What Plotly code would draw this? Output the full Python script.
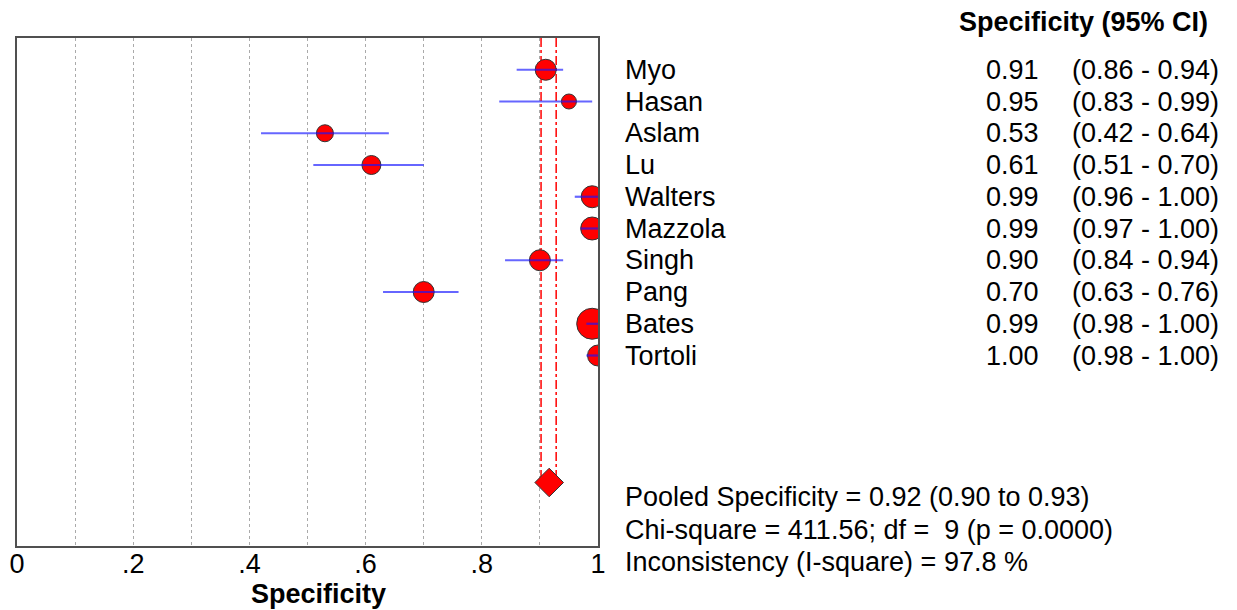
import plotly.graph_objects as go

studies = ["Myo", "Hasan", "Aslam", "Lu", "Walters", "Mazzola", "Singh", "Pang", "Bates", "Tortoli"]
spec = [0.91, 0.95, 0.53, 0.61, 0.99, 0.99, 0.90, 0.70, 0.99, 1.00]
lo = [0.86, 0.83, 0.42, 0.51, 0.96, 0.97, 0.84, 0.63, 0.98, 0.98]
hi = [0.94, 0.99, 0.64, 0.70, 1.00, 1.00, 0.94, 0.76, 1.00, 1.00]
spec_txt = ["0.91", "0.95", "0.53", "0.61", "0.99", "0.99", "0.90", "0.70", "0.99", "1.00"]
ci_txt = ["(0.86 - 0.94)", "(0.83 - 0.99)", "(0.42 - 0.64)", "(0.51 - 0.70)", "(0.96 - 1.00)",
          "(0.97 - 1.00)", "(0.84 - 0.94)", "(0.63 - 0.76)", "(0.98 - 1.00)", "(0.98 - 1.00)"]
weights = [21, 15, 17, 19, 22, 23, 21, 21, 31, 21]  # marker diameter (px)
pooled = 0.916
pooled_lo = 0.902
pooled_hi = 0.928
pooled_row = 13
stats_lines = ["Pooled Specificity = 0.92 (0.90 to 0.93)",
               "Chi-square = 411.56; df =  9 (p = 0.0000)",
               "Inconsistency (I-square) = 97.8 %"]
tick_vals = [0, 0.2, 0.4, 0.6, 0.8, 1.0]
tick_text = ["0", ".2", ".4", ".6", ".8", "1"]

FONT = "Liberation Sans, Arial, sans-serif"
FS = 27
OFF = 8  # default page body margin
W, H = 1237 - 2 * OFF, 610 - OFF
L, R, T, B = 17, 598, 38, 546  # plot area in screen pixels
PW, PH = R - L, B - T

def px_x(px):
    return (px - L) / PW

def px_y(py):
    return (B - py) / PH

rows = list(range(len(studies)))
fig = go.Figure()

# pooled CI lines
for v in (pooled_lo, pooled_hi):
    fig.add_trace(go.Scatter(x=[v, v], y=[-1, pooled_row], mode="lines",
                             line=dict(color="red", width=1.5, dash="dashdot"),
                             hoverinfo="skip", showlegend=False))

# study markers
fig.add_trace(go.Scatter(x=spec, y=rows, mode="markers",
                         marker=dict(size=weights, color="#ff0000", opacity=1,
                                     line=dict(color="#333333", width=1)),
                         showlegend=False))
# CI lines on top
for i in rows:
    fig.add_trace(go.Scatter(x=[lo[i], hi[i]], y=[i, i], mode="lines",
                             line=dict(color="rgba(20,20,255,0.65)", width=2.2),
                             hoverinfo="skip", showlegend=False))

# pooled diamond
fig.add_trace(go.Scatter(x=[pooled], y=[pooled_row], mode="markers",
                         marker=dict(symbol="diamond", size=22, color="#ff0000", opacity=1,
                                     line=dict(color="#333333", width=1)),
                         showlegend=False))

txtfont = dict(size=FS, family=FONT, color="black")
ann = []
ann.append(dict(x=px_x(957), y=px_y(22), xref="paper", yref="paper", xanchor="left", yanchor="middle",
                text="<b>Specificity (95% CI)</b>", showarrow=False, font=txtfont))
for i in rows:
    ann.append(dict(x=px_x(1041), y=i, xref="paper", yref="y", xanchor="right", yanchor="middle",
                    text=spec_txt[i], showarrow=False, font=txtfont))
    ann.append(dict(x=px_x(1070), y=i, xref="paper", yref="y", xanchor="left", yanchor="middle",
                    text=ci_txt[i], showarrow=False, font=txtfont))
    ann.append(dict(x=px_x(623), y=i, xref="paper", yref="y", xanchor="left", yanchor="middle",
                    text=studies[i], showarrow=False, font=txtfont))
for s, py in zip(stats_lines, [497, 530, 562]):
    ann.append(dict(x=px_x(623), y=px_y(py), xref="paper", yref="paper", xanchor="left", yanchor="middle",
                    text=s, showarrow=False, font=txtfont))
ann.append(dict(x=px_x(318), y=px_y(594), xref="paper", yref="paper", xanchor="center", yanchor="middle",
                text="<b>Specificity</b>", showarrow=False, font=txtfont))

fig.update_layout(
    width=W, height=H,
    margin=dict(l=L - OFF, r=W - (R - OFF), t=T - OFF, b=H - (B - OFF), pad=0, autoexpand=False),
    paper_bgcolor="white", plot_bgcolor="white",
    annotations=ann,
    xaxis=dict(range=[0, 1], tickvals=tick_vals, ticktext=tick_text, showgrid=False,
               zeroline=False, showline=True, mirror=True, linecolor="#505050", linewidth=2,
               ticks="", tickfont=txtfont, automargin=False, ticklabelstandoff=-7,
               minor=dict(dtick=0.1, tick0=0, showgrid=True, gridcolor="#aaaaaa", griddash="dot", gridwidth=1)),
    yaxis=dict(range=[15, -1], showticklabels=False, showgrid=False, zeroline=False, automargin=False,
               showline=True, mirror=True, linecolor="#505050", linewidth=2, ticks=""),
)
fig.write_html("out.html")
